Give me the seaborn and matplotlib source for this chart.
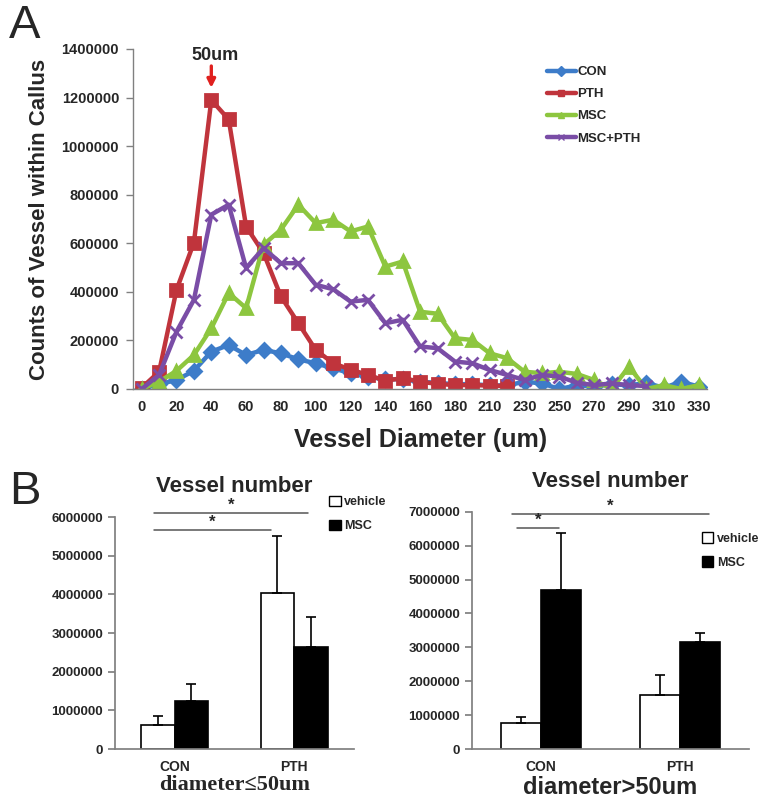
import numpy as np
import pandas as pd
import matplotlib
matplotlib.use("Agg")
import matplotlib.pyplot as plt
import seaborn as sns
from matplotlib.patches import Patch
from matplotlib.lines import Line2D

# ---- Panel A data: vessel diameter (um) categories ----
diameters = [0, 10, 20, 30, 40, 50, 60, 70, 80, 90, 100, 110, 120, 130, 140, 150,
             160, 170, 180, 190, 210, 220, 230, 240, 250, 260, 270, 280, 290, 300,
             310, 320, 330]
con = [0, 20000, 37000, 75000, 154000, 181000, 140000, 161000, 147000, 122000,
       106000, 85000, 65000, 50000, 40000, 40000, 30000, 25000, 20000, 20000,
       15000, 15000, 30000, 23000, 0, 15000, 10000, 20000, 15000, 25000, 5000,
       30000, 10000]
pth = [5000, 71000, 408000, 603000, 1190000, 1110000, 669000, 560000, 381000,
       271000, 161000, 106000, 80000, 58000, 34000, 45000, 30000, 21000, 16000,
       16000, 14000, 12000]
msc = [0, 30000, 75000, 140000, 250000, 395000, 333000, 594000, 656000, 759000,
       683000, 697000, 649000, 669000, 504000, 525000, 318000, 310000, 209000,
       202000, 147000, 127000, 71000, 65000, 71000, 62000, 37000, 0, 92000, 0,
       16000, 0, 16000]
msc_pth = [0, 58000, 236000, 367000, 718000, 759000, 498000, 580000, 518000,
           518000, 429000, 411000, 360000, 367000, 271000, 285000, 175000, 168000,
           113000, 106000, 78000, 58000, 37000, 58000, 51000, 26000, 16000, 23000,
           16000, 12000]

# ---- Panel B data ----
groups = ["CON", "PTH"]
treatments = ["vehicle", "MSC"]
small_vehicle = [620000, 4030000]
small_msc = [1250000, 2630000]
small_vehicle_err = [240000, 1480000]
small_msc_err = [420000, 780000]
large_vehicle = [776000, 1590000]
large_msc = [4690000, 3170000]
large_vehicle_err = [177000, 590000]
large_msc_err = [1690000, 260000]

tick_font = "Liberation Sans"

sns.set_theme(style="white")
plt.rcParams["font.family"] = ["Liberation Sans", "DejaVu Sans"]

fig = plt.figure(figsize=(7.63, 8.0), dpi=100)

# ================= Panel A =================
axA = fig.add_axes([0.1743, 0.51375, 0.7527, 0.425])
series = [("CON", con, "#3D7CC9", "D", 7),
          ("PTH", pth, "#C0343C", "s", 9),
          ("MSC", msc, "#8DC63F", "^", 8),
          ("MSC+PTH", msc_pth, "#7A4DA6", "x", 8)]
rows = []
for name, vals, _, _, _ in series:
    for i, v in enumerate(vals):
        rows.append({"idx": i, "count": v, "group": name})
dfA = pd.DataFrame(rows)

for name, vals, col, mk, ms in series:
    sub = dfA[dfA["group"] == name]
    sns.lineplot(data=sub, x="idx", y="count", color=col, marker=mk,
                 markersize=ms, markeredgecolor=col, markeredgewidth=2,
                 linewidth=3.2, ax=axA, label=name)

axA.set_xlim(-0.5, len(diameters) - 0.5)
axA.set_ylim(0, 1400000)
axA.set_yticks(np.arange(0, 1400001, 200000))
axA.set_yticklabels([str(v) for v in range(0, 1400001, 200000)],
                    fontweight="bold", fontsize=10.5, family=tick_font)
xt = list(range(0, len(diameters), 2))
axA.set_xticks(xt)
axA.set_xticklabels([str(diameters[i]) for i in xt], fontweight="bold",
                    fontsize=10.5, family=tick_font)
axA.set_xticks(np.arange(-0.5, len(diameters), 1), minor=True)
axA.tick_params(axis="x", which="major", length=0, pad=8)
axA.tick_params(axis="x", which="minor", length=5, color="#808080", width=1)
axA.tick_params(axis="y", length=5, color="#808080", width=1, left=True, pad=5)
for s in ["top", "right"]:
    axA.spines[s].set_visible(False)
for s in ["left", "bottom"]:
    axA.spines[s].set_color("#808080")
    axA.spines[s].set_linewidth(1)
axA.set_xlabel("Vessel Diameter (um)", fontsize=18, fontweight="bold",
               labelpad=10)
axA.set_ylabel("Counts of Vessel within Callus", fontsize=16, fontweight="bold",
               labelpad=8)

handles = [Line2D([0], [0], color=c, marker=m, markersize=5, linewidth=3.2,
                  markeredgecolor=c) for _, _, c, m, _ in series]
legA = axA.legend(handles, [s[0] for s in series], loc="upper left",
                  bbox_to_anchor=(0.7, 0.985), frameon=False, handlelength=2.2,
                  handletextpad=0.1, labelspacing=0.75,
                  prop={"weight": "bold", "size": 9.5, "family": tick_font})

# 50um arrow annotation at the PTH peak
peak = int(np.argmax(pth))
axA.annotate("", xy=(peak, pth[peak] + 50000), xytext=(peak, pth[peak] + 140000),
             arrowprops=dict(arrowstyle="-|>", color="#E0201E", lw=2.4,
                             mutation_scale=12, shrinkA=0, shrinkB=0))
axA.text(peak + 0.2, pth[peak] + 150000, "50um", ha="center", va="bottom",
         fontsize=13, fontweight="bold", family=tick_font)

fig.text(0.012, 0.995, "A", fontsize=34, va="top", ha="left",
         family="Liberation Sans")
fig.text(0.012, 0.412, "B", fontsize=34, va="top", ha="left",
         family="Liberation Sans")


# ================= Panel B =================
def bar_panel(ax, vehicle, msc_vals, veh_err, msc_err, ymax, width, xlabel,
              xlabel_family, xlabel_size, sigs, leg_anchor):
    df = pd.DataFrame({
        "group": groups * 2,
        "treat": ["vehicle"] * 2 + ["MSC"] * 2,
        "value": list(vehicle) + list(msc_vals),
    })
    sns.barplot(data=df, x="group", y="value", hue="treat", order=groups,
                hue_order=treatments, palette=["white", "black"],
                edgecolor="black", linewidth=1.2, width=width, errorbar=None,
                legend=False, ax=ax)
    errs = list(veh_err) + list(msc_err)
    vals = list(vehicle) + list(msc_vals)
    for p, v, e in zip(ax.patches, vals, errs):
        xc = p.get_x() + p.get_width() / 2
        ax.errorbar(xc, v, yerr=[[0], [e]], fmt="none", ecolor="black",
                    elinewidth=1.2, capsize=3.5, capthick=1.2)
    ax.set_xlim(-0.5, 1.5)
    ax.set_ylim(0, ymax)
    ticks = np.arange(0, ymax + 1, 1000000)
    ax.set_yticks(ticks)
    ax.set_yticklabels([str(int(t)) for t in ticks], fontweight="bold",
                       fontsize=9.5, family=tick_font)
    ax.set_xticks([0, 1])
    ax.set_xticklabels(groups, fontweight="bold", fontsize=10,
                       family=tick_font)
    ax.set_xticks([0.5], minor=True)
    ax.tick_params(axis="x", which="major", length=0, pad=8)
    ax.tick_params(axis="x", which="minor", length=5, color="#808080")
    ax.tick_params(axis="y", length=5, color="#808080", left=True)
    for s in ["top", "right"]:
        ax.spines[s].set_visible(False)
    for s in ["left", "bottom"]:
        ax.spines[s].set_color("#808080")
    ax.set_ylabel("")
    ax.set_xlabel(xlabel, fontsize=xlabel_size, fontweight="bold",
                  family=xlabel_family, labelpad=1)
    ax.set_title("Vessel number", fontsize=16, fontweight="bold", pad=18)
    for x0, x1, y in sigs:
        ax.plot([x0, x1], [y, y], color="#555555", lw=1.1, clip_on=False)
        ax.text((x0 + x1) / 2, y, "*", ha="center", va="bottom",
                fontsize=12, fontweight="bold", clip_on=False)
    hd = [Patch(facecolor="white", edgecolor="black", linewidth=1),
          Patch(facecolor="black", edgecolor="black")]
    ax.legend(hd, treatments, loc="upper left", bbox_to_anchor=leg_anchor,
              frameon=False, handlelength=0.9, handleheight=0.9,
              handletextpad=0.3, labelspacing=0.9,
              prop={"weight": "bold", "size": 9, "family": tick_font})


axB1 = fig.add_axes([0.1507, 0.06375, 0.3132, 0.29])
bar_panel(axB1, small_vehicle, small_msc, small_vehicle_err, small_msc_err,
          6000000, 0.56, "diameter\u226450um", ["Liberation Serif", "DejaVu Serif"],
          16, [(-0.174, 1.115, 6100000), (-0.174, 0.805, 5660000)], (0.85, 1.14))

axB2 = fig.add_axes([0.6186, 0.06375, 0.363, 0.2966])
bar_panel(axB2, large_vehicle, large_msc, large_vehicle_err, large_msc_err,
          7000000, 0.58, "diameter>50um", "Liberation Sans", 17,
          [(-0.211, 1.211, 6930000), (-0.175, 0.128, 6520000)], (0.79, 0.96))

fig.savefig("out.png", dpi=100)
